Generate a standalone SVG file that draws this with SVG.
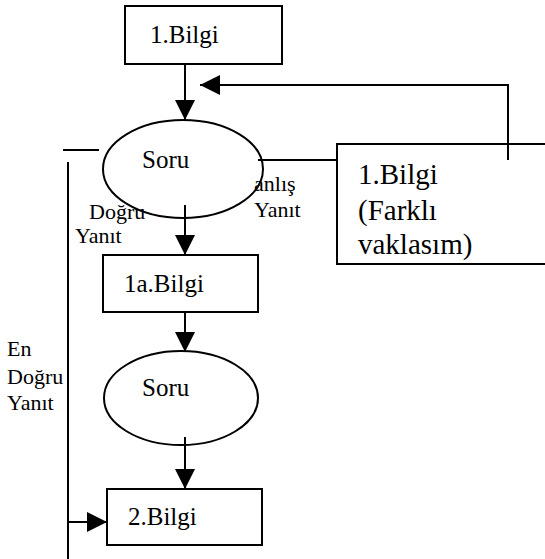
<svg xmlns="http://www.w3.org/2000/svg" width="545" height="559" viewBox="0 0 545 559">
  <style>
    .box { fill: none; stroke: #000; stroke-width: 2; }
    .oval { fill: none; stroke: #000; stroke-width: 2; }
    .ln { fill: none; stroke: #000; stroke-width: 2; }
    text { font-family: Liberation Serif, Tinos, DejaVu Serif, serif; fill: #000; }
    .node { font-size: 25px; }
    .big { font-size: 29px; }
    .lbl { font-size: 22px; }
  </style>
  <defs>
    <marker id="arrow" viewBox="0 0 20 20" refX="20" refY="10" markerWidth="20" markerHeight="20" markerUnits="userSpaceOnUse" orient="auto">
      <path d="M0,0 L20,10 L0,20 z" fill="#000"/>
    </marker>
  </defs>

  <rect width="545" height="559" fill="#fff"/>

  <!-- connectors -->
  <g id="connectors">
    <line class="ln" x1="185" y1="64" x2="185" y2="120" marker-end="url(#arrow)"/>
    <polyline class="ln" points="508,160 508,85 200,85" marker-end="url(#arrow)"/>
    <line class="ln" x1="258" y1="160" x2="337" y2="160"/>
    <line class="ln" x1="185" y1="205" x2="185" y2="255" marker-end="url(#arrow)"/>
    <line class="ln" x1="185" y1="312" x2="185" y2="352" marker-end="url(#arrow)"/>
    <line class="ln" x1="185" y1="437" x2="185" y2="489" marker-end="url(#arrow)"/>
    <line class="ln" x1="63" y1="150" x2="99" y2="150"/>
    <line class="ln" x1="68" y1="162" x2="68" y2="559"/>
    <line class="ln" x1="68" y1="522" x2="107" y2="522" marker-end="url(#arrow)"/>
  </g>

  <!-- edge labels -->
  <g id="labels">
    <text class="lbl" x="89" y="219">Doğru</text>
    <text class="lbl" x="75" y="243">Yanıt</text>
    <text class="lbl" x="254" y="191">anlış</text>
    <text class="lbl" x="254" y="217">Yanıt</text>
    <text class="lbl" x="7" y="356">En</text>
    <text class="lbl" x="7" y="384">Doğru</text>
    <text class="lbl" x="7" y="410">Yanıt</text>
  </g>

  <g id="bilgi1">
    <rect class="box" x="125" y="6" width="157" height="58"/>
    <text class="node" x="150" y="43">1.Bilgi</text>
  </g>

  <g id="soru1">
    <ellipse class="oval" cx="183" cy="169" rx="80" ry="49"/>
    <text class="node" x="142" y="168">Soru</text>
  </g>

  <g id="bilgi1-farkli">
    <rect class="box" x="337" y="144" width="220" height="120"/>
    <text class="big" x="358" y="184">1.Bilgi</text>
    <text class="big" x="358" y="220">(Farklı</text>
    <text class="big" x="358" y="254">vaklasım)</text>
  </g>

  <g id="bilgi1a">
    <rect class="box" x="103" y="255" width="155" height="57"/>
    <text class="node" x="124" y="292">1a.Bilgi</text>
  </g>

  <g id="soru2">
    <ellipse class="oval" cx="181" cy="398" rx="77" ry="47"/>
    <text class="node" x="142" y="396">Soru</text>
  </g>

  <g id="bilgi2">
    <rect class="box" x="107" y="489" width="155" height="56"/>
    <text class="node" x="128" y="525">2.Bilgi</text>
  </g>
</svg>
